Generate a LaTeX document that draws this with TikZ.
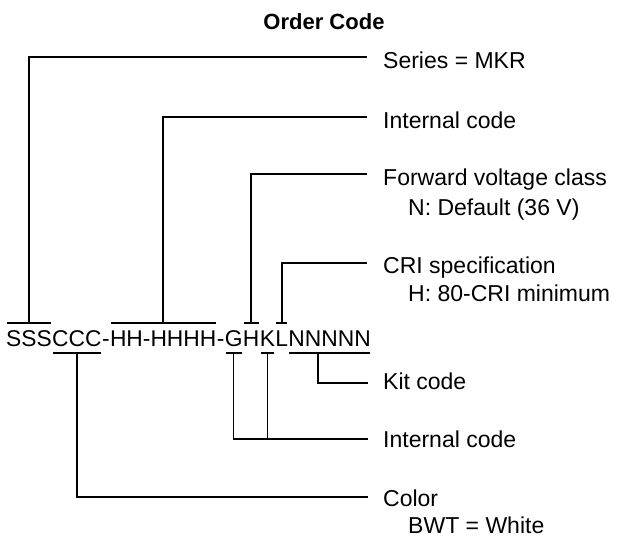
\documentclass[tikz,border=0pt]{standalone}
\usepackage{fontspec}
\setmainfont{Liberation Sans}
\usetikzlibrary{calc}
\begin{document}
\begin{tikzpicture}[x=1pt,y=-1pt,
  conn/.style={line width=1.6pt},
  bar/.style={line width=1.6pt, shorten <=1pt, shorten >=1pt},
  txtlab/.style={anchor=base west, inner sep=0pt, font=\fontsize{23}{27}\selectfont},
  codech/.style={anchor=base west, inner xsep=0pt, inner ysep=6.5pt, text height=16.5pt, text depth=0pt, font=\fontsize{22.8}{27}\selectfont}]
\fill[white] (0,0) rectangle (620,539);
\useasboundingbox (0,0) rectangle (620,539);
% title
\node[anchor=base, inner sep=0pt, font=\bfseries\fontsize{22}{26}\selectfont] (title) at (324,29) {Order Code};
% code string
\node[codech] (cS) at (6,346) {SSS};
\node[codech] (cC) at (cS.base east) {CCC};
\node[codech] (cd1) at (cC.base east) {-};
\node[codech] (cH) at (cd1.base east) {HH-HHHH};
\node[codech] (cd2) at (cH.base east) {-};
\node[codech] (cG) at (cd2.base east) {G};
\node[codech] (cHb) at (cG.base east) {H};
\node[codech] (cK) at (cHb.base east) {K};
\node[codech] (cL) at (cK.base east) {L};
\node[codech] (cN) at (cL.base east) {NNNNN};
% bars
\foreach \n in {cS,cH,cHb,cL} \draw[bar] (\n.north west) -- (\n.north east);
\foreach \n in {cC,cG,cK,cN} \draw[bar] (\n.south west) -- (\n.south east);
% line ends
\coordinate (eSer) at (367,57);
\coordinate (eIntA) at (367,117);
\coordinate (eFwd) at (367,174);
\coordinate (eCRI) at (367,263);
\coordinate (eKit) at (368,383);
\coordinate (eIntB) at (368,439);
\coordinate (eCol) at (368,497);
% connectors
\draw[conn] (cS.north) |- (eSer);
\draw[conn] (cH.north) |- (eIntA);
\draw[conn] (cHb.north) |- (eFwd);
\draw[conn] (cL.north) |- (eCRI);
\draw[conn] ($(cN.south west)!0.36!(cN.south east)$) |- (eKit);
\draw[conn] (cG.south) |- (eIntB);
\draw[conn] (cK.south) -- (cK.south |- eIntB);
\draw[conn] (cC.south) |- (eCol);
% labels
\node[txtlab] (lSer) at (383,68) {Series = MKR};
\node[txtlab] (lIntA) at (383,128) {Internal code};
\node[txtlab] (lFwd) at (383,185) {Forward voltage class};
\node[txtlab] (lFwdb) at (408,215) {N: Default (36 V)};
\node[txtlab] (lCRI) at (383,273) {CRI specification};
\node[txtlab] (lCRIb) at (408,301) {H: 80-CRI minimum};
\node[txtlab] (lKit) at (383,389) {Kit code};
\node[txtlab] (lIntB) at (383,447) {Internal code};
\node[txtlab] (lCol) at (383,506) {Color};
\node[txtlab] (lColb) at (408,533) {BWT = White};
\end{tikzpicture}
\end{document}
